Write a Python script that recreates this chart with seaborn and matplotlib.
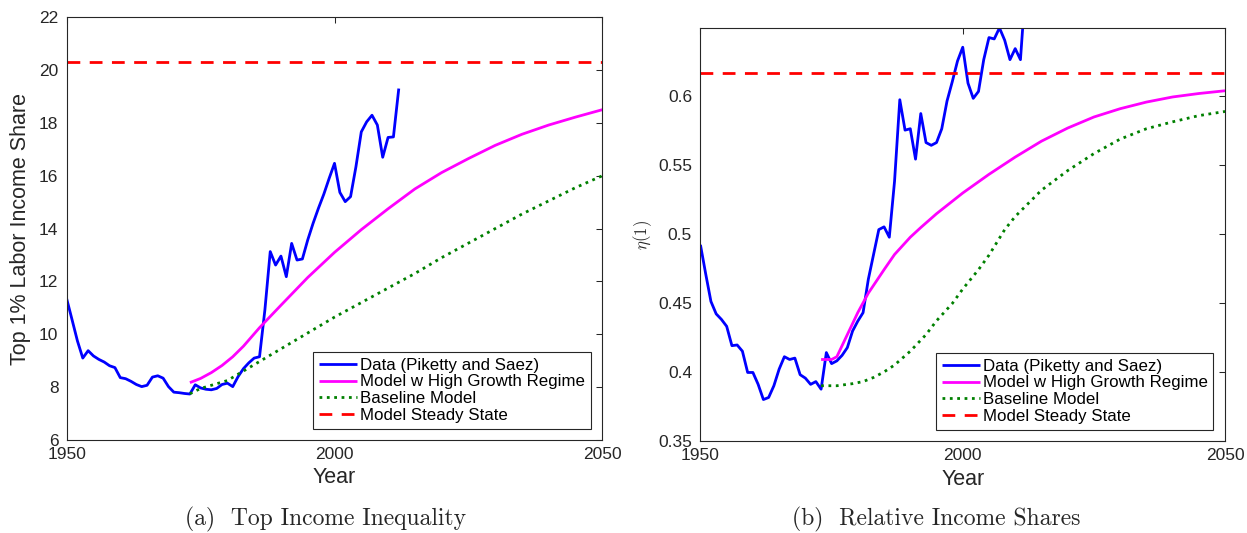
import pandas as pd
import matplotlib
matplotlib.use("Agg")
import matplotlib.pyplot as plt
import seaborn as sns

# ---- data ----
data_years = list(range(1950, 2013))
top1_share = [11.34, 10.55, 9.75, 9.10, 9.38, 9.18, 9.05, 8.95, 8.81, 8.74,
              8.36, 8.32, 8.22, 8.10, 8.02, 8.07, 8.38, 8.43, 8.34, 8.02,
              7.81, 7.79, 7.76, 7.74, 8.09, 7.97, 7.92, 7.90, 7.95, 8.10,
              8.15, 8.02, 8.40, 8.70, 8.92, 9.10, 9.15, 10.92, 13.13, 12.62,
              12.96, 12.18, 13.44, 12.81, 12.85, 13.57, 14.20, 14.77, 15.30, 15.90,
              16.47, 15.37, 15.02, 15.21, 16.34, 17.66, 18.04, 18.29, 17.92, 16.70,
              17.45, 17.47, 19.30]
eta_data = [0.492, 0.471, 0.451, 0.442, 0.438, 0.433, 0.419, 0.4195, 0.415, 0.3996,
            0.3996, 0.391, 0.380, 0.3815, 0.390, 0.402, 0.411, 0.409, 0.410, 0.398,
            0.3955, 0.391, 0.393, 0.3875, 0.414, 0.406, 0.408, 0.412, 0.4176, 0.4296,
            0.4368, 0.4429, 0.467, 0.485, 0.503, 0.505, 0.4975, 0.538, 0.597, 0.575,
            0.576, 0.554, 0.587, 0.566, 0.564, 0.566, 0.576, 0.596, 0.610, 0.625,
            0.635, 0.609, 0.598, 0.603, 0.626, 0.642, 0.641, 0.649, 0.640, 0.626,
            0.634, 0.626, 0.680]

# model paths (left panel)
model_years_a = [1973, 1975, 1977, 1979, 1981, 1983, 1986, 1990, 1995, 2000,
                 2005, 2010, 2015, 2020, 2025, 2030, 2035, 2040, 2045, 2050]
high_growth_a = [8.17, 8.33, 8.55, 8.82, 9.15, 9.55, 10.25, 11.10, 12.15, 13.10,
                 13.96, 14.75, 15.50, 16.12, 16.65, 17.15, 17.57, 17.92, 18.22, 18.50]
baseline_years_a = [1973, 1975, 1980, 1985, 1990, 1995, 2000, 2005, 2010, 2015,
                    2020, 2025, 2030, 2035, 2040, 2045, 2050]
baseline_a = [7.75, 7.95, 8.25, 8.85, 9.45, 10.05, 10.65, 11.20, 11.75, 12.30,
              12.90, 13.45, 14.00, 14.55, 15.05, 15.55, 16.00]
steady_state_a = 20.3

# model paths (right panel)
model_years_b = [1973, 1975, 1976, 1978, 1980, 1982, 1985, 1987, 1990, 1992,
                 1995, 2000, 2005, 2010, 2015, 2020, 2025, 2030, 2035, 2040,
                 2045, 2050]
high_growth_b = [0.409, 0.409, 0.411, 0.427, 0.443, 0.457, 0.474, 0.485, 0.4975, 0.5045,
                 0.5145, 0.5295, 0.543, 0.5555, 0.567, 0.5765, 0.5845, 0.5905, 0.5953, 0.599,
                 0.6015, 0.6035]
baseline_years_b = [1973, 1976, 1979, 1981, 1983, 1985, 1987, 1990, 1993, 1995,
                    1998, 2000, 2003, 2005, 2008, 2010, 2015, 2020, 2025, 2030,
                    2035, 2040, 2045, 2050]
baseline_b = [0.390, 0.390, 0.3915, 0.393, 0.396, 0.400, 0.405, 0.415, 0.427, 0.437,
              0.4495, 0.460, 0.474, 0.4845, 0.503, 0.5125, 0.5315, 0.5457, 0.558, 0.5685,
              0.576, 0.581, 0.5855, 0.5885]
steady_state_b = 0.6162

ss_years = [1950, 2050]
labels = ["Data (Piketty and Saez)", "Model w High Growth Regime",
          "Baseline Model", "Model Steady State"]
yticks_a = [6, 8, 10, 12, 14, 16, 18, 20, 22]
yticks_b = [0.35, 0.40, 0.45, 0.50, 0.55, 0.60]
yticklabels_b = ["0.35", "0.4", "0.45", "0.5", "0.55", "0.6"]
xticks = [1950, 2000, 2050]

# ---- style ----
sns.set_theme(style="white")
plt.rcParams["font.family"] = ["Liberation Sans", "DejaVu Sans"]
plt.rcParams["mathtext.fontset"] = "cm"
plt.rcParams["lines.solid_capstyle"] = "butt"
ink = "#262626"

fig = plt.figure(figsize=(12.47, 5.33), dpi=100)
ax1 = fig.add_axes([0.0535, 0.1745, 0.4295, 0.7932])
ax2 = fig.add_axes([0.5617, 0.1726, 0.4207, 0.7743])


def draw(ax, dy, dv, my, mv, by, bv, ss):
    sns.lineplot(x=dy, y=dv, ax=ax, color="#0000ff", lw=2.0, label=labels[0])
    sns.lineplot(x=my, y=mv, ax=ax, color="#ff00ff", lw=2.0, label=labels[1])
    sns.lineplot(x=by, y=bv, ax=ax, color="#008000", lw=2.0, ls=":", label=labels[2])
    sns.lineplot(x=ss_years, y=[ss, ss], ax=ax, color="#ff0000", lw=2.0,
                 dashes=False, label=labels[3])
    ax.lines[-1].set_dashes((4.6, 3.4))
    ax.set_xlim(1950, 2050)
    ax.set_xticks(xticks)
    ax.set_xticklabels([str(t) for t in xticks])
    ax.set_xlabel("Year", fontsize=15.5, color=ink, labelpad=4)
    ax.tick_params(axis="both", direction="in", length=4.5, width=0.75,
                   top=True, right=True, labelsize=12.5, colors=ink)
    ax.tick_params(axis="x", pad=5)
    ax.tick_params(axis="y", pad=6)
    for s in ax.spines.values():
        s.set_color(ink)
        s.set_linewidth(0.8)
    w = ax.get_window_extent().width
    h = ax.get_window_extent().height
    leg = ax.legend(loc="lower right", bbox_to_anchor=(1 - 11.6 / w, 11.2 / h),
                    borderaxespad=0, fontsize=12.2, frameon=True, fancybox=False,
                    framealpha=1, edgecolor=ink, handlelength=2.25,
                    handletextpad=0.15, labelspacing=0.1, borderpad=0.35)
    leg.get_frame().set_linewidth(0.8)
    for t in leg.get_texts():
        t.set_color("black")


draw(ax1, data_years, top1_share, model_years_a, high_growth_a,
     baseline_years_a, baseline_a, steady_state_a)
ax1.set_ylim(6, 22)
ax1.set_yticks(yticks_a)
ax1.set_ylabel("Top 1% Labor Income Share", fontsize=15.5, color=ink, labelpad=6)

draw(ax2, data_years, eta_data, model_years_b, high_growth_b,
     baseline_years_b, baseline_b, steady_state_b)
ax2.set_ylim(0.35, 0.6487)
ax2.set_yticks(yticks_b)
ax2.set_yticklabels(yticklabels_b)
ax2.set_ylabel(r"$\eta(1)$", fontsize=12, color=ink, labelpad=3)

fig.text(0.261, 0.026, "(a)  Top Income Inequality", fontsize=17,
         family="cmr10", ha="center", va="center")
fig.text(0.751, 0.026, "(b)  Relative Income Shares", fontsize=17,
         family="cmr10", ha="center", va="center")

fig.savefig("out.png", dpi=100)
